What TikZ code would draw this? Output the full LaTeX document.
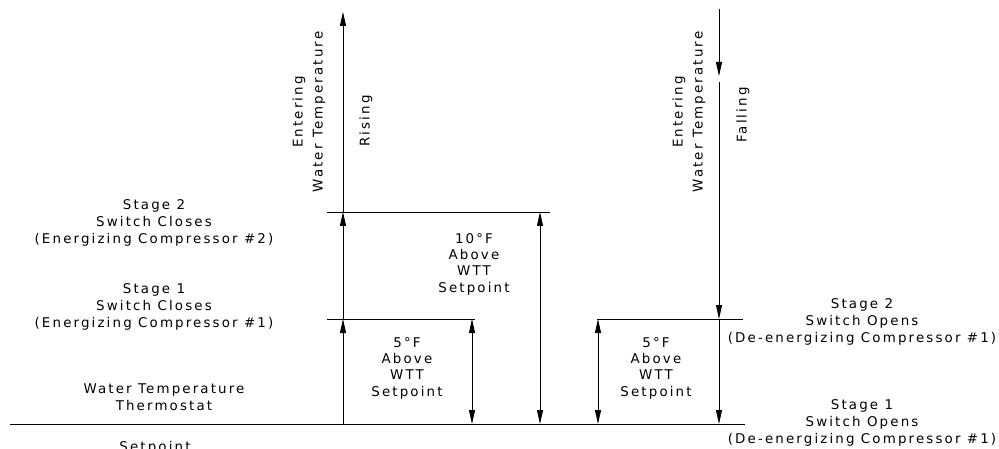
\documentclass[tikz,border=0pt]{standalone}
\usepackage{fontspec}
\setmainfont{DejaVu Sans}[LetterSpace=16]
\usetikzlibrary{arrows.meta}
\newcommand{\lblfont}{\fontsize{13.4}{17}\selectfont}
\newcommand{\dimfont}{\fontsize{13.4}{16.3}\selectfont}
\newcommand{\rotfont}{\fontsize{13.4}{20}\selectfont}
\begin{document}
\begin{tikzpicture}[x=1pt,y=-1pt,
  lbl/.style={font=\lblfont, align=center, inner sep=0pt},
  dimlbl/.style={font=\dimfont, align=center, inner sep=0pt},
  ln/.style={line width=0.8pt},
  tip/.tip={Triangle[length=14pt,width=6pt]},
  arr/.style={ln,-tip},
  dimarr/.style={ln,tip-tip}]
\useasboundingbox (0,0) rectangle (999,449);
% reference points
\coordinate (B0) at (10,424);
\coordinate (B1) at (745,424);
\coordinate (L1a) at (327,319);
\coordinate (L1b) at (475,319);
\coordinate (L2a) at (327,212);
\coordinate (L2b) at (550,212);
\coordinate (R2a) at (597,319);
\coordinate (R2b) at (743,319);
\coordinate (RB) at (343,424);
\coordinate (R1) at (343,319);
\coordinate (R2) at (343,212);
\coordinate (RT) at (343,12);
\coordinate (FT) at (719,9);
\coordinate (FM) at (719,76);
\coordinate (FM2) at (719,82);
\coordinate (F2) at (719,319);
\coordinate (FB) at (719,424);
\coordinate (D5La) at (472,319);
\coordinate (D5Lb) at (472,424);
\coordinate (D10a) at (540,212);
\coordinate (D10b) at (540,424);
\coordinate (D5Ra) at (598,319);
\coordinate (D5Rb) at (598,424);
% horizontal lines
\draw[line width=1pt] (B0) -- (B1);
\draw[ln] (L1a) -- (L1b);
\draw[ln] (L2a) -- (L2b);
\draw[ln] (R2a) -- (R2b);
% rising axis
\draw[arr] (RB) -- (R1);
\draw[arr] (R1) -- (R2);
\draw[arr] (R2) -- (RT);
% falling axis
\draw[arr] (FT) -- (FM);
\draw[arr] (FM2) -- (F2);
\draw[arr] (F2) -- (FB);
% dimension arrows
\draw[dimarr] (D5La) -- (D5Lb);
\draw[dimarr] (D10a) -- (D10b);
\draw[dimarr] (D5Ra) -- (D5Rb);
% left labels
\node[lbl] (s2c) at (154,223) {Stage 2\\Switch Closes\\(Energizing Compressor \#2)};
\node[lbl] (s1c) at (154,307) {Stage 1\\Switch Closes\\(Energizing Compressor \#1)};
\node[lbl] (wtt) at (164,397) {Water Temperature\\Thermostat};
\node[lbl, anchor=base] (sp) at (155,451) {Setpoint};
% dimension labels
\node[dimlbl] (d10) at (474,264) {10°F\\Above\\WTT\\Setpoint};
\node[dimlbl] (d5l) at (407,368) {5°F\\Above\\WTT\\Setpoint};
\node[dimlbl] (d5r) at (656,368) {5°F\\Above\\WTT\\Setpoint};
% right labels
\node[lbl] (s2o) at (862,322) {Stage 2\\Switch Opens\\(De-energizing Compressor \#1)};
\node[lbl] (s1o) at (862,423) {Stage 1\\Switch Opens\\(De-energizing Compressor \#1)};
% rotated labels
\node[lbl, rotate=90, font=\rotfont] (ewt1) at (309,112) {Entering\\Water Temperature};
\node[lbl, rotate=90] (rise) at (366,121) {Rising};
\node[lbl, rotate=90, font=\rotfont] (ewt2) at (689,112) {Entering\\Water Temperature};
\node[lbl, rotate=90] (fall) at (743,115) {Falling};
\end{tikzpicture}
\end{document}
